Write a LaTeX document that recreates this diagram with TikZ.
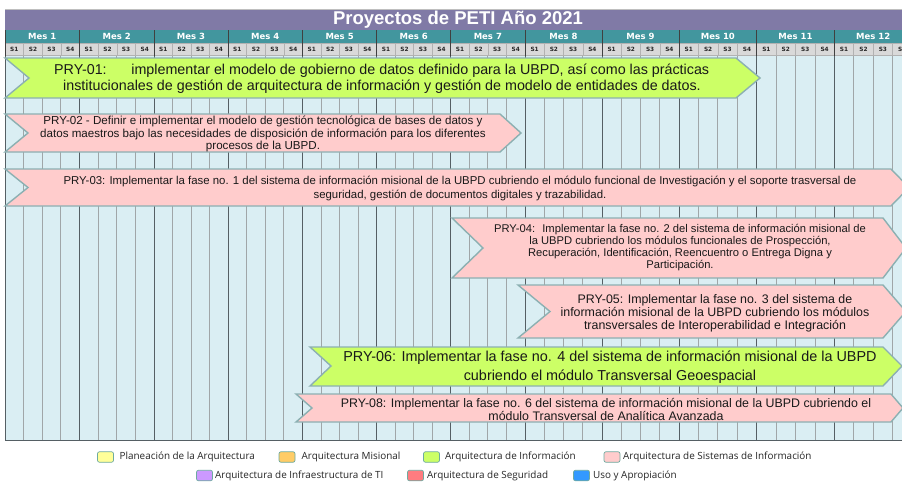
\documentclass[tikz,border=0pt]{standalone}
\usepackage{fontspec}
\setmainfont{Liberation Sans}
\newfontfamily\hdrfont{DejaVu Sans}
\newfontfamily\legfont{Open Sans}
\definecolor{titlebg}{RGB}{128,122,166}
\definecolor{monthbg}{RGB}{66,150,158}
\definecolor{weekbg}{RGB}{217,217,217}
\definecolor{gridbg}{RGB}{218,238,243}
\definecolor{majcol}{RGB}{85,95,100}
\definecolor{mincol}{RGB}{160,166,168}
\definecolor{barline}{RGB}{140,176,178}
\definecolor{bargreen}{RGB}{204,255,102}
\definecolor{barpink}{RGB}{255,204,204}
\definecolor{legyellow}{RGB}{255,255,153}
\definecolor{legorange}{RGB}{255,204,102}
\definecolor{legpurple}{RGB}{204,153,255}
\definecolor{legred}{RGB}{255,124,128}
\definecolor{legblue}{RGB}{51,153,255}
\definecolor{legborder}{RGB}{110,170,160}
\tikzset{
  monthlbl/.style={text=white, font=\hdrfont\bfseries\fontsize{8.5}{10}\selectfont, inner sep=0pt},
  weeklbl/.style={text=black!85, font=\hdrfont\bfseries\fontsize{5.8}{7}\selectfont, inner sep=0pt},
  weekcell/.style={fill=weekbg, draw=black!30, line width=0.5pt},
  majorline/.style={draw=majcol, line width=1pt},
  minorline/.style={draw=mincol, line width=0.8pt},
  bar/.style={draw=barline, line width=1.4pt, line join=miter},
  bartxt/.style={align=center, inner sep=0pt, text=black!90},
  legbox/.style={draw=legborder, line width=0.7pt, rounded corners=2pt, minimum width=16pt, minimum height=10.5pt, inner sep=0pt},
  legtxt/.style={anchor=west, inner sep=0pt, font=\legfont\fontsize{9.9}{11}\selectfont, text=black!85}
}
\def\mbnd{{5,79.5,154,228,302.5,376.7,450.7,525,602,679,756.7,834.3,912}}
\begin{document}
\begin{tikzpicture}[x=1pt,y=-1pt]
\useasboundingbox (0,0) rectangle (902,482);
\clip (0,0) rectangle (902,482);
\fill[white] (0,0) rectangle (902,482);
% title
\fill[titlebg] (5,9) rectangle (912,30);
\draw[black!25, line width=0.6pt] (5,9) -- (912,9);
\node[text=white, font=\bfseries\fontsize{18.5}{20}\selectfont, inner sep=0pt] (title) at (458,19.5) {Proyectos de PETI Año 2021};
% grid body
\fill[gridbg] (5,55.5) rectangle (912,440);
\foreach \i in {0,...,11}{
  \pgfmathsetmacro\xa{\mbnd[\i]}
  \pgfmathsetmacro\xb{\mbnd[\i+1]}
  \pgfmathsetmacro\ww{(\xb-\xa)/4}
  \pgfmathtruncatemacro\n{\i+1}
  \fill[monthbg] (\xa,30) rectangle (\xb,43.3);
  \node[monthlbl] (mes\n) at ({(\xa+\xb)/2},36.8) {Mes \n};
  \foreach \j in {0,...,3}{
    \pgfmathsetmacro\xx{\xa+\j*\ww}
    \pgfmathtruncatemacro\k{\j+1}
    \draw[weekcell] (\xx,43.3) rectangle ({\xx+\ww},55.5);
    \node[weeklbl] (s\n-\k) at ({\xx+\ww/2},49.6) {S\k};
    \ifnum\j>0 \draw[minorline] (\xx,55.5) -- (\xx,440); \fi
  }
  \draw[draw=black!75, line width=1pt] (\xa,30) -- (\xa,55.5);
  \draw[majorline] (\xa,55.5) -- (\xa,440);
}
\draw[majorline] (5,440) -- (912,440);
% bars
\draw[bar, fill=bargreen] (5,58) -- (736,58) -- (760,78) -- (736,98) -- (5,98) -- (29,78) -- cycle;
\node[bartxt, anchor=base west, font=\fontsize{14.3}{16}\selectfont] (t1a) at (54,74.5) {PRY-01:\hspace{24.7pt}implementar el modelo de gobierno de datos definido para la UBPD, así como las prácticas};
\node[bartxt, anchor=base, font=\fontsize{14.3}{16}\selectfont] (t1b) at (382,90.5) {institucionales de gestión de arquitectura de información y gestión de modelo de entidades de datos.};
\draw[bar, fill=barpink] (5,114) -- (500,114) -- (521,133) -- (500,152) -- (5,152) -- (28,133) -- cycle;
\node[bartxt, font=\fontsize{11.6}{12.8}\selectfont] (t2) at (263,134) {PRY-02 - Definir e implementar el modelo de gestión tecnológica de bases de datos y\\datos maestros bajo las necesidades de disposición de información para los diferentes\\procesos de la UBPD.};
\draw[bar, fill=barpink] (5,169) -- (891,169) -- (909,187.5) -- (891,206) -- (5,206) -- (28,187.5) -- cycle;
\node[bartxt, font=\fontsize{11.4}{13.5}\selectfont] (t3) at (460,188.5) {PRY-03: Implementar la fase no. 1 del sistema de información misional de la UBPD cubriendo el módulo funcional de Investigación y el soporte trasversal de\\seguridad, gestión de documentos digitales y trazabilidad.};
\draw[bar, fill=barpink] (452,218) -- (883,218) -- (906,248) -- (883,278) -- (452,278) -- (483,248) -- cycle;
\node[bartxt, font=\fontsize{11.2}{12.3}\selectfont] (t4) at (680,247.5) {PRY-04:\hspace{3pt} Implementar la fase no. 2 del sistema de información misional de\\la UBPD cubriendo los módulos funcionales de Prospección,\\Recuperación, Identificación, Reencuentro o Entrega Digna y\\Participación.};
\draw[bar, fill=barpink] (518,285) -- (883,285) -- (906,311.5) -- (883,338) -- (518,338) -- (550,311.5) -- cycle;
\node[bartxt, font=\fontsize{12.4}{13}\selectfont] (t5) at (715,313) {PRY-05: Implementar la fase no. 3 del sistema de\\información misional de la UBPD cubriendo los módulos\\transversales de Interoperabilidad e Integración};
\draw[bar, fill=bargreen] (310,347) -- (883,347) -- (902,366) -- (883,386) -- (310,386) -- (331,366) -- cycle;
\node[bartxt, font=\fontsize{14.4}{19}\selectfont] (t6) at (610,367) {PRY-06: Implementar la fase no. 4 del sistema de información misional de la UBPD\\cubriendo el módulo Transversal Geoespacial};
\draw[bar, fill=barpink] (296,394) -- (891,394) -- (903,408) -- (891,422) -- (296,422) -- (312,408) -- cycle;
\node[bartxt, font=\fontsize{12.4}{13}\selectfont] (t8) at (606,409) {PRY-08: Implementar la fase no. 6 del sistema de información misional de la UBPD cubriendo el\\módulo Transversal de Analítica Avanzada};
% legend
\node[legbox, fill=legyellow] (l1) at (105.5,457) {};
\node[legtxt] (lt1) at (119.5,457) {Planeación de la Arquitectura};
\node[legbox, fill=legorange] (l2) at (287,457) {};
\node[legtxt] (lt2) at (301.5,457) {Arquitectura Misional};
\node[legbox, fill=bargreen] (l3) at (431.5,457) {};
\node[legtxt] (lt3) at (445,457) {Arquitectura de Información};
\node[legbox, fill=barpink] (l4) at (612,457) {};
\node[legtxt] (lt4) at (623,457) {Arquitectura de Sistemas de Información};
\node[legbox, fill=legpurple] (l5) at (204.5,475.5) {};
\node[legtxt] (lt5) at (215,475.5) {Arquitectura de Infraestructura de TI};
\node[legbox, fill=legred] (l6) at (415.5,475.5) {};
\node[legtxt] (lt6) at (427,475.5) {Arquitectura de Seguridad};
\node[legbox, fill=legblue] (l7) at (581.5,475.5) {};
\node[legtxt] (lt7) at (593,475.5) {Uso y Apropiación};
\end{tikzpicture}
\end{document}
